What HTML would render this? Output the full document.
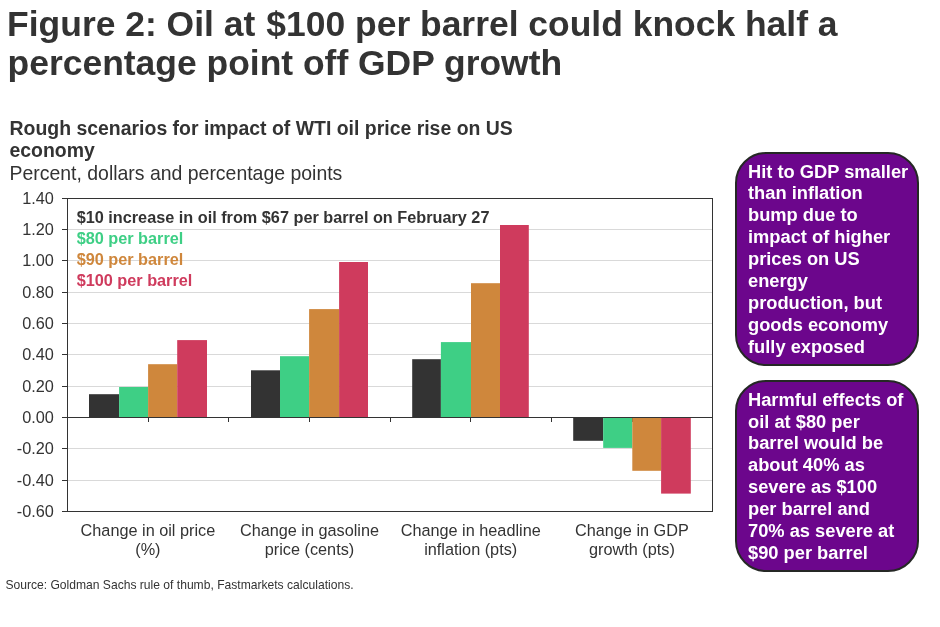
<!DOCTYPE html><html><head><meta charset="utf-8"><style>html,body{margin:0;padding:0;background:#fff;width:940px;height:627px;overflow:hidden}svg{display:block;will-change:transform}text{font-family:"Liberation Sans",Arial,sans-serif}</style></head><body>
<svg width="940" height="627" viewBox="0 0 940 627">
<g fill="#333333" font-weight="bold" font-size="35.45px">
<text x="7.1" y="35.6">Figure 2: Oil at <tspan dx="1.3">$100 per barrel could knock half a</tspan></text>
<text x="7.6" y="74.6">percentage point off GDP growth</text></g>
<g fill="#333333" font-weight="bold" font-size="19.45px">
<text x="9.5" y="135.3">Rough scenarios for impact of WTI oil price rise on US</text>
<text x="9.5" y="157.3">economy</text></g>
<text x="9.5" y="180.1" fill="#333333" font-size="19.45px">Percent, dollars and percentage points</text>
<g stroke="#d9d9d9" stroke-width="1">
<line x1="67" x2="712" y1="229.5" y2="229.5"/>
<line x1="67" x2="712" y1="260.5" y2="260.5"/>
<line x1="67" x2="712" y1="292.5" y2="292.5"/>
<line x1="67" x2="712" y1="323.5" y2="323.5"/>
<line x1="67" x2="712" y1="354.5" y2="354.5"/>
<line x1="67" x2="712" y1="386.5" y2="386.5"/>
<line x1="67" x2="712" y1="448.5" y2="448.5"/>
<line x1="67" x2="712" y1="480.5" y2="480.5"/>
</g>
<g stroke="#333333" stroke-width="1">
<line x1="148.5" x2="148.5" y1="417.5" y2="422"/>
<line x1="228.5" x2="228.5" y1="417.5" y2="422"/>
<line x1="309.5" x2="309.5" y1="417.5" y2="422"/>
<line x1="390.5" x2="390.5" y1="417.5" y2="422"/>
<line x1="470.5" x2="470.5" y1="417.5" y2="422"/>
<line x1="551.5" x2="551.5" y1="417.5" y2="422"/>
<line x1="632.5" x2="632.5" y1="417.5" y2="422"/>
</g>
<rect x="89.00" y="394.20" width="30.10" height="22.90" fill="#333333"/>
<rect x="119.10" y="387.00" width="29.00" height="30.10" fill="#3ecf85"/>
<rect x="148.10" y="364.20" width="29.10" height="52.90" fill="#cf873c"/>
<rect x="177.20" y="340.10" width="29.80" height="77.00" fill="#cf3b5d"/>
<rect x="251.00" y="370.30" width="29.00" height="46.80" fill="#333333"/>
<rect x="280.00" y="356.20" width="29.10" height="60.90" fill="#3ecf85"/>
<rect x="309.10" y="309.10" width="30.00" height="108.00" fill="#cf873c"/>
<rect x="339.10" y="262.00" width="28.90" height="155.10" fill="#cf3b5d"/>
<rect x="412.20" y="359.20" width="28.70" height="57.90" fill="#333333"/>
<rect x="440.90" y="342.10" width="30.10" height="75.00" fill="#3ecf85"/>
<rect x="471.00" y="283.20" width="29.00" height="133.90" fill="#cf873c"/>
<rect x="500.00" y="225.00" width="28.80" height="192.10" fill="#cf3b5d"/>
<rect x="573.20" y="417.10" width="30.00" height="23.70" fill="#333333"/>
<rect x="603.20" y="417.10" width="29.10" height="30.80" fill="#3ecf85"/>
<rect x="632.30" y="417.10" width="28.80" height="53.70" fill="#cf873c"/>
<rect x="661.10" y="417.10" width="29.70" height="76.50" fill="#cf3b5d"/>
<g stroke="#333333" stroke-width="1" fill="none">
<rect x="67.5" y="198.5" width="645" height="313"/>
<line x1="67" x2="712" y1="417.5" y2="417.5"/>
<line x1="62" x2="67" y1="198.5" y2="198.5"/>
<line x1="62" x2="67" y1="229.5" y2="229.5"/>
<line x1="62" x2="67" y1="260.5" y2="260.5"/>
<line x1="62" x2="67" y1="292.5" y2="292.5"/>
<line x1="62" x2="67" y1="323.5" y2="323.5"/>
<line x1="62" x2="67" y1="354.5" y2="354.5"/>
<line x1="62" x2="67" y1="386.5" y2="386.5"/>
<line x1="62" x2="67" y1="417.5" y2="417.5"/>
<line x1="62" x2="67" y1="448.5" y2="448.5"/>
<line x1="62" x2="67" y1="480.5" y2="480.5"/>
<line x1="62" x2="67" y1="511.5" y2="511.5"/>
</g>
<g fill="#333333" font-size="16.3px" text-anchor="end">
<text x="53.9" y="203.8">1.40</text>
<text x="53.9" y="235.1">1.20</text>
<text x="53.9" y="266.4">1.00</text>
<text x="53.9" y="297.7">0.80</text>
<text x="53.9" y="329.0">0.60</text>
<text x="53.9" y="360.3">0.40</text>
<text x="53.9" y="391.6">0.20</text>
<text x="53.9" y="422.9">0.00</text>
<text x="53.9" y="454.2">-0.20</text>
<text x="53.9" y="485.5">-0.40</text>
<text x="53.9" y="516.8">-0.60</text>
</g>
<g font-weight="bold" font-size="16.25px">
<text x="76.7" y="222.5" fill="#333333">$10 increase in oil from $67 per barrel on February 27</text>
<text x="76.7" y="243.5" fill="#3ecf85">$80 per barrel</text>
<text x="76.7" y="265.3" fill="#cf873c">$90 per barrel</text>
<text x="76.7" y="286.4" fill="#cf3b5d">$100 per barrel</text>
</g>
<g fill="#333333" font-size="16.25px" text-anchor="middle">
<text x="147.90" y="536.0">Change in oil price</text><text x="147.90" y="555.4">(%)</text>
<text x="309.50" y="536.0">Change in gasoline</text><text x="309.50" y="555.4">price (cents)</text>
<text x="470.70" y="536.0">Change in headline</text><text x="470.70" y="555.4">inflation (pts)</text>
<text x="631.90" y="536.0">Change in GDP</text><text x="631.90" y="555.4">growth (pts)</text>
</g>
<text x="5.4" y="589.1" fill="#333333" font-size="12.1px">Source: Goldman Sachs rule of thumb, Fastmarkets calculations.</text>
<rect x="736" y="153" width="182" height="212" rx="30" ry="30" fill="#6c068c" stroke="#252825" stroke-width="2"/>
<rect x="736" y="381" width="182" height="190" rx="30" ry="30" fill="#6c068c" stroke="#252825" stroke-width="2"/>
<g fill="#ffffff" font-weight="bold" font-size="18.3px">
<text x="748.0" y="177.50">Hit to GDP smaller</text>
<text x="748.0" y="199.45">than inflation</text>
<text x="748.0" y="221.40">bump due to</text>
<text x="748.0" y="243.35">impact of higher</text>
<text x="748.0" y="265.30">prices on US</text>
<text x="748.0" y="287.25">energy</text>
<text x="748.0" y="309.20">production, but</text>
<text x="748.0" y="331.15">goods economy</text>
<text x="748.0" y="353.10">fully exposed</text>
<text x="748.0" y="405.70">Harmful effects of</text>
<text x="748.0" y="427.55">oil at $80 per</text>
<text x="748.0" y="449.40">barrel would be</text>
<text x="748.0" y="471.25">about 40% as</text>
<text x="748.0" y="493.10">severe as $100</text>
<text x="748.0" y="514.95">per barrel and</text>
<text x="748.0" y="536.80">70% as severe at</text>
<text x="748.0" y="558.65">$90 per barrel</text>
</g>
</svg></body></html>
